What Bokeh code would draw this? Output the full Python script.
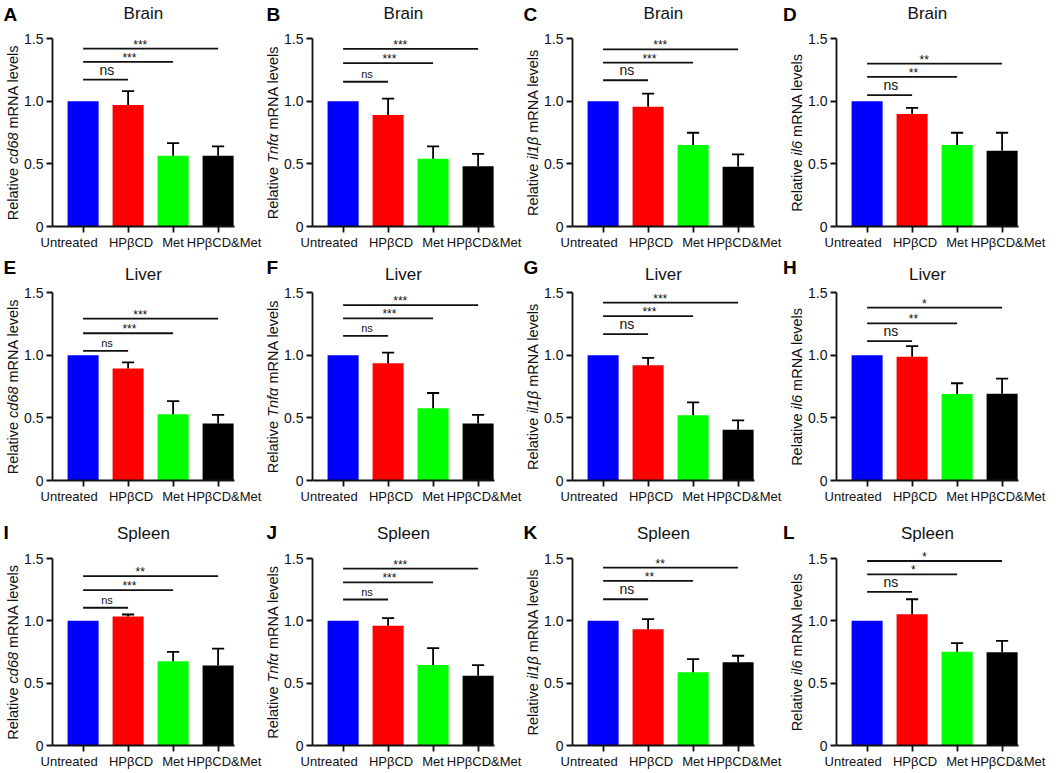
from bokeh.plotting import figure
from bokeh.layouts import gridplot
from bokeh.models import Label, Range1d, FixedTicker, ColumnDataSource
from bokeh.embed import file_html
from bokeh.resources import INLINE

# ---------------- data ----------------
groups = ["Untreated", "HPβCD", "Met", "HPβCD&Met"]
bar_colors = ["#0000FF", "#FF0000", "#00FF00", "#000000"]
tissues = ["Brain", "Liver", "Spleen"]
genes = ["cd68", "Tnfα", "il1β", "il6"]
panel_letters = ["A", "B", "C", "D", "E", "F", "G", "H", "I", "J", "K", "L"]
y_ticks = [0, 0.5, 1, 1.5]
y_tick_labels = ["0", "0.5", "1.0", "1.5"]

brain_cd68_mean = [1.0, 0.97, 0.565, 0.565]
brain_cd68_sd = [0.0, 0.11, 0.10, 0.075]
brain_cd68_sig = [1.172, 1.313, 1.419]
brain_cd68_marks = ["ns", "***", "***"]

brain_tnfa_mean = [1.0, 0.89, 0.54, 0.48]
brain_tnfa_sd = [0.0, 0.13, 0.10, 0.10]
brain_tnfa_sig = [1.155, 1.304, 1.417]
brain_tnfa_marks = ["ns", "***", "***"]

brain_il1b_mean = [1.0, 0.955, 0.65, 0.477]
brain_il1b_sd = [0.0, 0.105, 0.098, 0.099]
brain_il1b_sig = [1.167, 1.308, 1.414]
brain_il1b_marks = ["ns", "***", "***"]

brain_il6_mean = [1.0, 0.897, 0.65, 0.605]
brain_il6_sd = [0.0, 0.05, 0.098, 0.143]
brain_il6_sig = [1.048, 1.194, 1.30]
brain_il6_marks = ["ns", "**", "**"]

liver_cd68_mean = [1.0, 0.894, 0.528, 0.454]
liver_cd68_sd = [0.0, 0.048, 0.106, 0.069]
liver_cd68_sig = [1.034, 1.175, 1.292]
liver_cd68_marks = ["ns", "***", "***"]

liver_tnfa_mean = [1.0, 0.936, 0.576, 0.454]
liver_tnfa_sd = [0.0, 0.085, 0.122, 0.069]
liver_tnfa_sig = [1.154, 1.294, 1.40]
liver_tnfa_marks = ["ns", "***", "***"]

liver_il1b_mean = [1.0, 0.92, 0.52, 0.405]
liver_il1b_sd = [0.0, 0.059, 0.104, 0.075]
liver_il1b_sig = [1.168, 1.312, 1.419]
liver_il1b_marks = ["ns", "***", "***"]

liver_il6_mean = [1.0, 0.987, 0.69, 0.693]
liver_il6_sd = [0.0, 0.085, 0.086, 0.12]
liver_il6_sig = [1.112, 1.253, 1.379]
liver_il6_marks = ["ns", "**", "*"]

spleen_cd68_mean = [1.0, 1.035, 0.676, 0.641]
spleen_cd68_sd = [0.0, 0.016, 0.075, 0.136]
spleen_cd68_sig = [1.105, 1.247, 1.359]
spleen_cd68_marks = ["ns", "***", "**"]

spleen_tnfa_mean = [1.0, 0.96, 0.645, 0.56]
spleen_tnfa_sd = [0.0, 0.061, 0.136, 0.085]
spleen_tnfa_sig = [1.171, 1.309, 1.419]
spleen_tnfa_marks = ["ns", "***", "***"]

spleen_il1b_mean = [1.0, 0.933, 0.587, 0.667]
spleen_il1b_sd = [0.0, 0.08, 0.106, 0.053]
spleen_il1b_sig = [1.173, 1.32, 1.427]
spleen_il1b_marks = ["ns", "**", "**"]

spleen_il6_mean = [1.0, 1.053, 0.752, 0.747]
spleen_il6_sd = [0.0, 0.12, 0.069, 0.093]
spleen_il6_sig = [1.232, 1.373, 1.48]
spleen_il6_marks = ["ns", "*", "*"]

panels = [
    [(brain_cd68_mean, brain_cd68_sd, brain_cd68_sig, brain_cd68_marks),
     (brain_tnfa_mean, brain_tnfa_sd, brain_tnfa_sig, brain_tnfa_marks),
     (brain_il1b_mean, brain_il1b_sd, brain_il1b_sig, brain_il1b_marks),
     (brain_il6_mean, brain_il6_sd, brain_il6_sig, brain_il6_marks)],
    [(liver_cd68_mean, liver_cd68_sd, liver_cd68_sig, liver_cd68_marks),
     (liver_tnfa_mean, liver_tnfa_sd, liver_tnfa_sig, liver_tnfa_marks),
     (liver_il1b_mean, liver_il1b_sd, liver_il1b_sig, liver_il1b_marks),
     (liver_il6_mean, liver_il6_sd, liver_il6_sig, liver_il6_marks)],
    [(spleen_cd68_mean, spleen_cd68_sd, spleen_cd68_sig, spleen_cd68_marks),
     (spleen_tnfa_mean, spleen_tnfa_sd, spleen_tnfa_sig, spleen_tnfa_marks),
     (spleen_il1b_mean, spleen_il1b_sd, spleen_il1b_sig, spleen_il1b_marks),
     (spleen_il6_mean, spleen_il6_sd, spleen_il6_sig, spleen_il6_marks)],
]

# ---------------- layout / style ----------------
FONT = "Liberation Sans"
INK = "#111111"
COL_W = [262, 260, 260, 276]        # figure widths (px)
AX_LOCAL = [52, 50, 50, 54]         # y-axis position inside each figure (px)
LETTER_LOCAL = [3, 4, 1, 0.5]       # panel letter left edge (px)
ROW_H = [254, 262, 256]             # figure heights (px)
FRAME_TOP = [38, 38, 42]            # top of the 0..1.5 axis area (px)
FRAME_H = [188, 188, 187]           # height of the 0..1.5 axis area (px)
TITLE_GAP = [19, 12, 19]            # title baseline above the axis top (px)
LETTER_GAP = [18, 19, 20]           # letter baseline above the axis top (px)
PPX = 45.0                          # px per category
X0, X1 = -0.68, 3.36                # extent of the drawn x axis
BAR_W = 0.69
CAP_W = 0.27
LW = 1.8
LABEL_DX = [-14, 3, 0, 6]           # px shift of category labels
SIG_TEXT_X = [0.53, 1.03, 1.27]     # label position along each bracket
SMALL_NS = {(0, 1), (1, 0), (1, 1), (2, 0), (2, 1)}

# Arial/Liberation advance widths (per 1000 em)
W = {"Relative": 3612, "sp": 278, "mRNA levels": 5778,
     "cd68": 2168, "Tnfα": 2023, "il1β": 1575, "il6": 1000}


def make_panel(r, c):
    mean, sd, sig, marks = panels[r][c]
    fh = FRAME_H[r]
    ppy = fh / 1.5
    dx = lambda px: px / PPX
    dy = lambda px: px / ppy
    xs0 = X0 - dx(AX_LOCAL[c])
    xs1 = xs0 + dx(COL_W[c])
    ys0 = -dy(ROW_H[r] - FRAME_TOP[r] - fh)
    ys1 = 1.5 + dy(FRAME_TOP[r])

    p = figure(width=COL_W[c], height=ROW_H[r],
               x_range=Range1d(xs0, xs1), y_range=Range1d(ys0, ys1),
               output_backend="svg", toolbar_location=None, tools="",
               min_border=0, min_border_left=0, min_border_right=0,
               min_border_top=0, min_border_bottom=0,
               outline_line_color=None, background_fill_color="white",
               border_fill_color="white")
    p.xgrid.visible = False
    p.ygrid.visible = False

    xs = [0, 1, 2, 3]
    src = ColumnDataSource(dict(x=xs, top=mean, color=bar_colors))
    p.vbar(x="x", top="top", bottom=0, width=BAR_W, fill_color="color",
           line_color=None, source=src)

    ex = [x for x, s in zip(xs, sd) if s > 0]
    ey0 = [m for m, s in zip(mean, sd) if s > 0]
    ey1 = [m + s for m, s in zip(mean, sd) if s > 0]
    p.segment(x0=ex, y0=ey0, x1=ex, y1=ey1, line_color="black", line_width=LW)
    p.segment(x0=[x - CAP_W / 2 for x in ex], y0=ey1,
              x1=[x + CAP_W / 2 for x in ex], y1=ey1,
              line_color="black", line_width=LW)

    # significance brackets
    p.segment(x0=[0, 0, 0], y0=sig, x1=[1, 2, 3], y1=sig,
              line_color=INK, line_width=LW)
    for k, (lev, mk) in enumerate(zip(sig, marks)):
        if mk == "ns":
            size = "11px" if (r, c) in SMALL_NS else "14px"
            off = 2
        else:
            size = "12px"
            off = -3
        p.add_layout(Label(x=SIG_TEXT_X[k], y=lev + dy(off), text=mk,
                           text_align="center", text_baseline="bottom",
                           text_font=FONT, text_font_size=size,
                           text_color=INK))

    # axes drawn at fixed positions inside the canvas
    for ax in (p.xaxis[0], p.yaxis[0]):
        ax.axis_line_width = LW
        ax.axis_line_color = INK
        ax.major_tick_line_width = LW
        ax.major_tick_line_color = INK
        ax.major_tick_out = 6
        ax.major_tick_in = 0
        ax.minor_tick_line_color = None
        ax.major_label_text_font = FONT
        ax.major_label_text_color = INK
    p.yaxis.fixed_location = X0
    p.yaxis.bounds = (0, 1.5)
    p.yaxis.ticker = FixedTicker(ticks=y_ticks)
    p.yaxis.major_label_overrides = dict(zip(y_ticks, y_tick_labels))
    p.yaxis.major_label_text_font_size = "14px"
    p.yaxis.major_label_standoff = 3
    p.xaxis.fixed_location = 0
    p.xaxis.bounds = (X0, X1)
    p.xaxis.ticker = FixedTicker(ticks=xs)
    p.xaxis.major_label_overrides = {x: "" for x in xs}
    p.xaxis.major_label_standoff = 0

    # category labels
    for i, g in enumerate(groups):
        p.add_layout(Label(x=xs[i] + dx(LABEL_DX[i]), y=-dy(8.5), text=g,
                           text_align="center", text_baseline="top",
                           text_font=FONT, text_font_size="13px",
                           text_color=INK))

    # y-axis title, mixed roman / italic
    fs = 14.5
    gene = genes[c]
    parts = [("Relative", "normal", W["Relative"]),
             (gene, "italic", W[gene]),
             ("mRNA levels", "normal", W["mRNA levels"])]
    total = (W["Relative"] + W[gene] + W["mRNA levels"] + 2 * W["sp"]) * fs / 1000
    ypos = 0.75 - dy(total / 2)
    lx = X0 - dx(40)
    for txt, style, w in parts:
        p.add_layout(Label(x=lx, y=ypos, text=txt, angle=90, angle_units="deg",
                           text_align="left", text_baseline="middle",
                           text_font=FONT, text_font_size=f"{fs}px",
                           text_font_style=style, text_color=INK))
        ypos += dy((w + W["sp"]) * fs / 1000)

    # title and panel letter (bottom of text box = baseline + descent)
    p.add_layout(Label(x=(X0 + X1) / 2, y=1.5 + dy(TITLE_GAP[r] - 3.6),
                       text=tissues[r],
                       text_align="center", text_baseline="bottom",
                       text_font=FONT, text_font_size="17px",
                       text_color=INK))
    p.add_layout(Label(x=xs0 + dx(LETTER_LOCAL[c]), y=1.5 + dy(LETTER_GAP[r] - 4),
                       text=panel_letters[r * 4 + c],
                       text_align="left", text_baseline="bottom",
                       text_font=FONT, text_font_size="19px",
                       text_font_style="bold", text_color="black"))
    return p


grid = gridplot([[make_panel(r, c) for c in range(4)] for r in range(3)],
                toolbar_location=None)

open("out.html", "w").write(file_html(grid, INLINE))
